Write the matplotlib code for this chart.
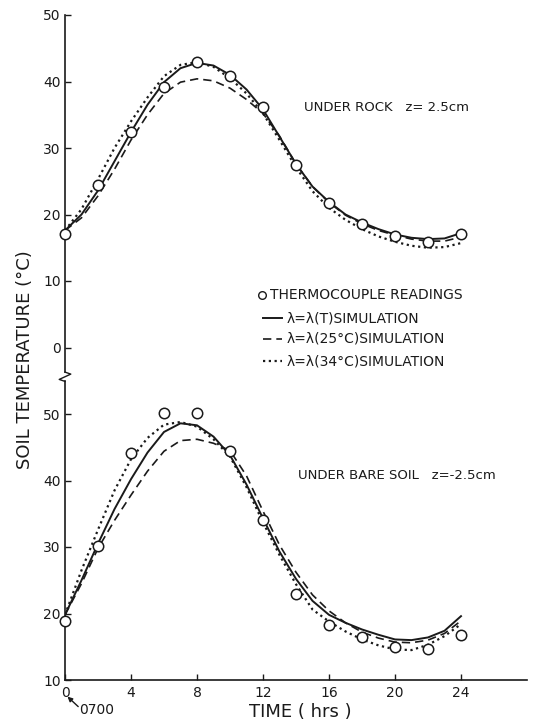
"""Soil temperature under rock and under bare soil: readings vs simulations."""

import matplotlib

matplotlib.use("Agg")
import matplotlib.pyplot as plt
from matplotlib.lines import Line2D

plt.rcParams["font.family"] = ["DejaVu Sans"]

# hours of the day, starting at 0700
hours = list(range(25))
obs_hours = list(range(0, 25, 2))

# under rock, z = 2.5 cm
rock_obs = [17.0, 24.5, 32.4, 39.1, 42.9, 40.8, 36.2, 27.4, 21.7, 18.6, 16.7, 15.8, 17.0]
rock_var = [17.6, 20.0, 23.6, 28.0, 32.4, 36.5, 39.9, 42.0, 42.8, 42.4, 41.0, 38.8, 35.8,
            31.7, 27.6, 24.2, 21.9, 20.0, 18.8, 17.8, 17.0, 16.5, 16.3, 16.4, 17.2]
rock_25 = [17.6, 19.5, 22.8, 26.8, 31.2, 35.0, 38.2, 39.9, 40.4, 40.1, 39.0, 37.3, 35.2,
           31.8, 27.6, 24.2, 21.8, 19.9, 18.6, 17.6, 16.9, 16.3, 16.0, 16.0, 16.6]
rock_34 = [17.6, 20.8, 25.3, 30.0, 34.0, 37.6, 40.8, 42.5, 42.9, 42.2, 40.5, 38.2, 35.2,
           31.2, 27.1, 23.5, 21.0, 19.2, 17.8, 16.7, 15.9, 15.3, 15.0, 15.1, 15.7]

# under bare soil, z = -2.5 cm
soil_obs = [18.8, 30.2, 44.2, 50.1, 50.1, 44.5, 34.0, 23.0, 18.2, 16.5, 15.0, 14.7, 16.7]
soil_var = [19.8, 25.0, 30.5, 35.7, 40.2, 44.2, 47.3, 48.6, 48.3, 46.6, 43.8, 39.4, 34.3,
            29.3, 25.2, 21.9, 19.8, 18.6, 17.6, 16.8, 16.1, 16.0, 16.4, 17.4, 19.6]
soil_25 = [19.8, 24.5, 29.8, 34.0, 37.8, 41.4, 44.4, 46.0, 46.2, 45.6, 44.5, 40.7, 35.4,
           30.3, 26.2, 22.8, 20.4, 18.6, 17.2, 16.3, 15.7, 15.6, 16.0, 17.0, 18.9]
soil_34 = [19.8, 26.5, 32.6, 38.5, 43.2, 46.4, 48.4, 48.8, 48.1, 46.2, 43.6, 39.0, 33.7,
           28.8, 24.4, 20.6, 18.8, 17.3, 16.1, 15.2, 14.6, 14.5, 15.3, 16.6, 18.4]

# lower panel shares the axis, shifted down past the break
SHIFT = 60
rock_ticks = [50, 40, 30, 20, 10, 0]
soil_ticks = [50, 40, 30, 20, 10]
x_ticks = [0, 4, 8, 12, 16, 20, 24]

legend_labels = [
    "THERMOCOUPLE READINGS",
    "λ=λ(T)SIMULATION",
    "λ=λ(25°C)SIMULATION",
    "λ=λ(34°C)SIMULATION",
]

INK = "#1a1a1a"
W, H = 533, 726

fig = plt.figure(figsize=(W / 100, H / 100), dpi=100)
ax = fig.add_axes([65 / W, 46 / H, 462 / W, 665 / H])

styles = [
    dict(ls="-", lw=1.4),
    dict(ls=(0, (5, 3)), lw=1.2),
    dict(ls=(0, (1, 1.6)), lw=1.6),
]


def shifted(values):
    return [v - SHIFT for v in values]


for series, st in zip([rock_var, rock_25, rock_34], styles):
    ax.plot(hours, series, color=INK, zorder=2, **st)
for series, st in zip([soil_var, soil_25, soil_34], styles):
    ax.plot(hours, shifted(series), color=INK, zorder=2, **st)

marker_kw = dict(ls="none", marker="o", ms=7.5, mfc="white", mec=INK, mew=1.1, zorder=4,
                 clip_on=False)
ax.plot(obs_hours, rock_obs, **marker_kw)
ax.plot(obs_hours, shifted(soil_obs), **marker_kw)

ax.set_xlim(0, 28)
ax.set_ylim(-50, 50)

# left axis drawn by hand, with a break mark between the two scales
ax.spines[["top", "right", "left"]].set_visible(False)
ax.spines["bottom"].set_color(INK)
ax.spines["bottom"].set_linewidth(1.2)
ax.plot([0, 0], [50, -3.7], color=INK, lw=1.2, clip_on=False, zorder=3)
ax.plot([0, 0.35, -0.35, 0], [-3.7, -4.0, -4.8, -5.1], color=INK, lw=1.0,
        clip_on=False, zorder=3)
ax.plot([0, 0], [-5.1, -50], color=INK, lw=1.2, clip_on=False, zorder=3)

ax.set_yticks(rock_ticks + [t - SHIFT for t in soil_ticks])
ax.set_yticklabels([str(t) for t in rock_ticks] + [str(t) for t in soil_ticks])
ax.set_xticks(x_ticks)
ax.set_xticklabels([str(t) for t in x_ticks])
ax.tick_params(axis="both", direction="in", length=4, width=1.0, colors=INK,
               labelsize=10, pad=4)
ax.tick_params(axis="y", pad=3)

ax.text(14.5, 36.1, "UNDER ROCK   z= 2.5cm", fontsize=9.5, color=INK,
        ha="left", va="center")
ax.text(14.1, -19.2, "UNDER BARE SOIL   z=-2.5cm", fontsize=9.5, color=INK,
        ha="left", va="center")

# start-time note under the origin
ax.text(0.85, -54.5, "0700", fontsize=10, color=INK, ha="left", va="center",
        clip_on=False)
ax.annotate("", xy=(0.15, -52.5), xytext=(0.8, -54.0), annotation_clip=False,
            arrowprops=dict(arrowstyle="-|>", color=INK, lw=1.0, mutation_scale=7,
                            shrinkA=0, shrinkB=0))

# hand-drawn key
rows_y = [295, 318, 339, 361]
fig.add_artist(Line2D([262 / W], [1 - rows_y[0] / H], marker="o", ms=5.5, mfc="white",
                      mec=INK, mew=1.0, ls="none"))
fig.text(270 / W, 1 - rows_y[0] / H, legend_labels[0], fontsize=10, color=INK,
         ha="left", va="center")
for y, st, label in zip(rows_y[1:], styles, legend_labels[1:]):
    fig.add_artist(Line2D([263 / W, 282 / W], [1 - y / H, 1 - y / H], color=INK, **st))
    fig.text(287 / W, 1 - y / H, label, fontsize=10, color=INK, ha="left", va="center")

fig.text(25 / W, 1 - 360 / H, "SOIL TEMPERATURE (°C)", rotation=90, fontsize=13,
         color=INK, ha="center", va="center")
fig.text(300 / W, 1 - 712 / H, "TIME ( hrs )", fontsize=13, color=INK,
         ha="center", va="center")

fig.savefig("out.png", dpi=100)
